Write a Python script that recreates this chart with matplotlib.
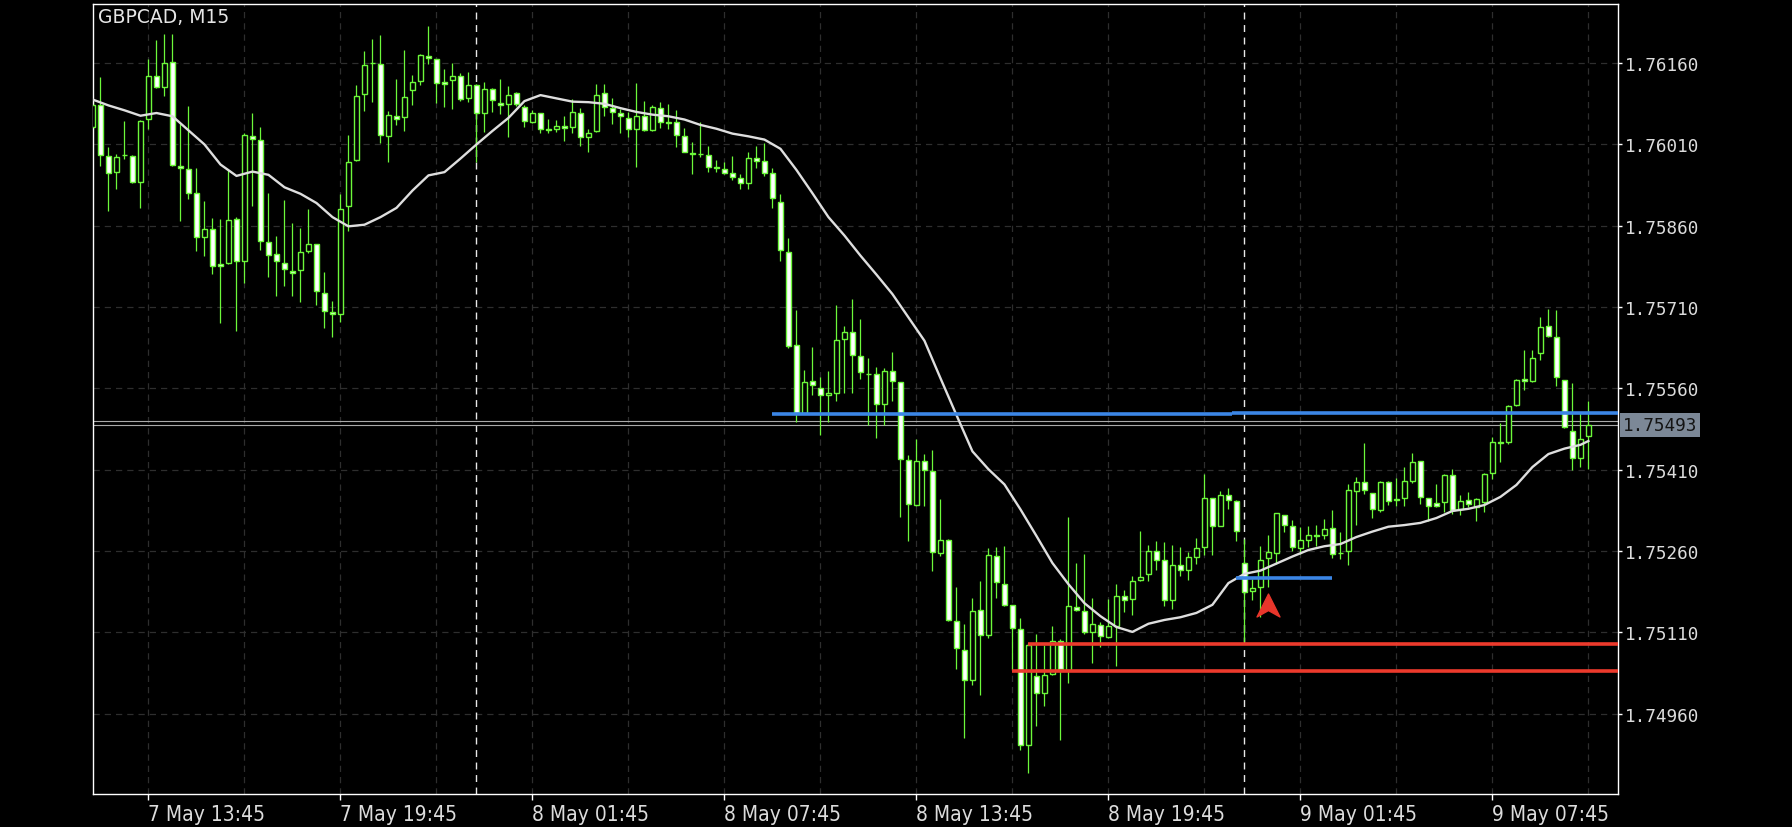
import matplotlib
matplotlib.use("Agg")
import matplotlib.pyplot as plt
from matplotlib.path import Path
from matplotlib.transforms import blended_transform_factory
import numpy as np
import pandas as pd

# chart data (GBPCAD M15)
symbol = "GBPCAD, M15"
start_time = "2024-05-07 12:00"

open_ = [1.76042, 1.76082, 1.75988, 1.75959, 1.75991, 1.75988, 1.75940, 1.76057, 1.76137, 1.76116,
         1.76162, 1.75970, 1.75964, 1.75920, 1.75839, 1.75854, 1.75789, 1.75791, 1.75873, 1.75795,
         1.76025, 1.76018, 1.75830, 1.75808, 1.75791, 1.75776, 1.75778, 1.75813, 1.75826, 1.75736,
         1.75701, 1.75697, 1.75896, 1.75981, 1.76103, 1.76160, 1.76158, 1.76025, 1.76063, 1.76060,
         1.76110, 1.76127, 1.76173, 1.76167, 1.76125, 1.76129, 1.76137, 1.76095, 1.76119, 1.76068,
         1.76113, 1.76086, 1.76084, 1.76105, 1.76079, 1.76052, 1.76068, 1.76039, 1.76038, 1.76044,
         1.76042, 1.76068, 1.76023, 1.76034, 1.76105, 1.76077, 1.76068, 1.76059, 1.76038, 1.76063,
         1.76036, 1.76077, 1.76051, 1.76051, 1.76025, 1.75994, 1.75993, 1.75990, 1.75968, 1.75964,
         1.75957, 1.75949, 1.75939, 1.75985, 1.75979, 1.75957, 1.75904, 1.75811, 1.75641, 1.75515,
         1.75573, 1.75561, 1.75548, 1.75551, 1.75651, 1.75664, 1.75620, 1.75587, 1.75586, 1.75531,
         1.75592, 1.75572, 1.75428, 1.75345, 1.75426, 1.75407, 1.75257, 1.75281, 1.75131, 1.75078,
         1.75022, 1.75151, 1.75105, 1.75251, 1.75200, 1.75161, 1.75117, 1.74903, 1.75030, 1.74998,
         1.75034, 1.75095, 1.75041, 1.75157, 1.75149, 1.75111, 1.75124, 1.75101, 1.75121, 1.75178,
         1.75171, 1.75207, 1.75217, 1.75260, 1.75243, 1.75169, 1.75235, 1.75225, 1.75250, 1.75267,
         1.75358, 1.75307, 1.75364, 1.75353, 1.75238, 1.75186, 1.75193, 1.75247, 1.75256, 1.75326,
         1.75307, 1.75265, 1.75281, 1.75289, 1.75290, 1.75302, 1.75257, 1.75260, 1.75371, 1.75387,
         1.75367, 1.75335, 1.75387, 1.75356, 1.75358, 1.75389, 1.75427, 1.75358, 1.75348, 1.75350,
         1.75401, 1.75338, 1.75355, 1.75341, 1.75350, 1.75404, 1.75460, 1.75461, 1.75529, 1.75577,
         1.75573, 1.75625, 1.75676, 1.75655, 1.75576, 1.75482, 1.75431, 1.75472]
high = [1.76094, 1.76134, 1.76006, 1.75993, 1.76054, 1.75991, 1.76056, 1.76168, 1.76203, 1.76214,
        1.76214, 1.76048, 1.76081, 1.75966, 1.75905, 1.75874, 1.75872, 1.75962, 1.75876, 1.76031,
        1.76068, 1.76042, 1.75921, 1.75841, 1.75907, 1.75865, 1.75856, 1.75891, 1.75826, 1.75774,
        1.75722, 1.75919, 1.76027, 1.76120, 1.76183, 1.76205, 1.76211, 1.76071, 1.76131, 1.76185,
        1.76138, 1.76177, 1.76228, 1.76168, 1.76150, 1.76160, 1.76142, 1.76143, 1.76122, 1.76125,
        1.76114, 1.76131, 1.76118, 1.76106, 1.76083, 1.76073, 1.76068, 1.76057, 1.76055, 1.76062,
        1.76093, 1.76078, 1.76038, 1.76122, 1.76122, 1.76096, 1.76076, 1.76070, 1.76124, 1.76090,
        1.76082, 1.76088, 1.76084, 1.76074, 1.76040, 1.76014, 1.76052, 1.76007, 1.75982, 1.75977,
        1.75988, 1.75955, 1.75997, 1.76008, 1.76012, 1.75967, 1.75919, 1.75838, 1.75704, 1.75594,
        1.75636, 1.75582, 1.75592, 1.75714, 1.75676, 1.75725, 1.75688, 1.75617, 1.75600, 1.75597,
        1.75628, 1.75572, 1.75437, 1.75467, 1.75439, 1.75447, 1.75357, 1.75283, 1.75194, 1.75126,
        1.75173, 1.75204, 1.75266, 1.75268, 1.75269, 1.75161, 1.75136, 1.75090, 1.75107, 1.75087,
        1.75121, 1.75097, 1.75322, 1.75238, 1.75255, 1.75173, 1.75130, 1.75171, 1.75200, 1.75188,
        1.75215, 1.75297, 1.75272, 1.75278, 1.75276, 1.75271, 1.75268, 1.75259, 1.75284, 1.75403,
        1.75358, 1.75370, 1.75377, 1.75355, 1.75283, 1.75209, 1.75270, 1.75290, 1.75330, 1.75326,
        1.75318, 1.75304, 1.75306, 1.75309, 1.75320, 1.75336, 1.75295, 1.75383, 1.75396, 1.75460,
        1.75367, 1.75390, 1.75389, 1.75395, 1.75415, 1.75441, 1.75427, 1.75358, 1.75384, 1.75403,
        1.75411, 1.75364, 1.75369, 1.75358, 1.75404, 1.75471, 1.75496, 1.75530, 1.75578, 1.75630,
        1.75630, 1.75692, 1.75707, 1.75704, 1.75576, 1.75570, 1.75516, 1.75537]
low = [1.76039, 1.75971, 1.75887, 1.75927, 1.75984, 1.75939, 1.75893, 1.76039, 1.76114, 1.76099,
       1.75970, 1.75868, 1.75910, 1.75814, 1.75805, 1.75771, 1.75680, 1.75790, 1.75666, 1.75755,
       1.75897, 1.75816, 1.75766, 1.75731, 1.75749, 1.75731, 1.75720, 1.75810, 1.75713, 1.75672,
       1.75655, 1.75683, 1.75850, 1.75980, 1.76071, 1.76088, 1.76013, 1.75977, 1.76046, 1.76035,
       1.76082, 1.76119, 1.76158, 1.76086, 1.76080, 1.76075, 1.76090, 1.76088, 1.75977, 1.76033,
       1.76070, 1.76067, 1.76023, 1.76081, 1.76042, 1.76049, 1.76031, 1.76031, 1.76033, 1.76017,
       1.76031, 1.76008, 1.75997, 1.76033, 1.76062, 1.76048, 1.76031, 1.76023, 1.75969, 1.76034,
       1.76034, 1.76040, 1.76039, 1.76005, 1.75996, 1.75955, 1.75987, 1.75959, 1.75959, 1.75955,
       1.75944, 1.75927, 1.75928, 1.75966, 1.75952, 1.75893, 1.75795, 1.75634, 1.75499, 1.75513,
       1.75548, 1.75475, 1.75499, 1.75536, 1.75551, 1.75551, 1.75578, 1.75492, 1.75469, 1.75492,
       1.75536, 1.75323, 1.75278, 1.75344, 1.75344, 1.75223, 1.75251, 1.75132, 1.75042, 1.74916,
       1.75013, 1.74994, 1.75100, 1.75173, 1.75158, 1.75041, 1.74893, 1.74850, 1.74937, 1.74975,
       1.75031, 1.74911, 1.75016, 1.75149, 1.75108, 1.75054, 1.75084, 1.75100, 1.75049, 1.75147,
       1.75143, 1.75205, 1.75205, 1.75226, 1.75159, 1.75153, 1.75215, 1.75207, 1.75237, 1.75252,
       1.75252, 1.75306, 1.75337, 1.75278, 1.75093, 1.75169, 1.75138, 1.75193, 1.75237, 1.75295,
       1.75261, 1.75255, 1.75267, 1.75270, 1.75283, 1.75248, 1.75246, 1.75235, 1.75309, 1.75366,
       1.75321, 1.75332, 1.75345, 1.75344, 1.75344, 1.75386, 1.75347, 1.75316, 1.75341, 1.75332,
       1.75329, 1.75326, 1.75341, 1.75315, 1.75332, 1.75393, 1.75425, 1.75458, 1.75527, 1.75558,
       1.75572, 1.75612, 1.75655, 1.75564, 1.75487, 1.75409, 1.75415, 1.75412]
close = [1.76082, 1.75991, 1.75957, 1.75987, 1.75991, 1.75940, 1.76054, 1.76136, 1.76116, 1.76160,
         1.75972, 1.75966, 1.75921, 1.75839, 1.75854, 1.75785, 1.75785, 1.75871, 1.75795, 1.76028,
         1.76020, 1.75832, 1.75807, 1.75795, 1.75781, 1.75773, 1.75811, 1.75826, 1.75739, 1.75702,
         1.75697, 1.75891, 1.75977, 1.76100, 1.76157, 1.76160, 1.76028, 1.76065, 1.76057, 1.76097,
         1.76125, 1.76175, 1.76169, 1.76123, 1.76121, 1.76137, 1.76094, 1.76120, 1.76068, 1.76113,
         1.76092, 1.76082, 1.76102, 1.76084, 1.76053, 1.76068, 1.76039, 1.76037, 1.76044, 1.76040,
         1.76070, 1.76023, 1.76031, 1.76101, 1.76079, 1.76070, 1.76062, 1.76038, 1.76062, 1.76036,
         1.76079, 1.76052, 1.76050, 1.76028, 1.75996, 1.75993, 1.75992, 1.75968, 1.75966, 1.75957,
         1.75950, 1.75939, 1.75985, 1.75979, 1.75958, 1.75911, 1.75816, 1.75639, 1.75515, 1.75572,
         1.75566, 1.75548, 1.75552, 1.75649, 1.75664, 1.75621, 1.75590, 1.75586, 1.75531, 1.75592,
         1.75574, 1.75429, 1.75346, 1.75426, 1.75409, 1.75258, 1.75281, 1.75133, 1.75082, 1.75022,
         1.75149, 1.75105, 1.75253, 1.75203, 1.75161, 1.75119, 1.74903, 1.75087, 1.74998, 1.75032,
         1.75095, 1.75042, 1.75159, 1.75151, 1.75110, 1.75126, 1.75103, 1.75121, 1.75178, 1.75169,
         1.75205, 1.75212, 1.75261, 1.75243, 1.75169, 1.75235, 1.75226, 1.75249, 1.75266, 1.75358,
         1.75307, 1.75363, 1.75355, 1.75298, 1.75184, 1.75192, 1.75243, 1.75258, 1.75330, 1.75308,
         1.75267, 1.75281, 1.75289, 1.75288, 1.75301, 1.75254, 1.75256, 1.75372, 1.75387, 1.75372,
         1.75338, 1.75387, 1.75353, 1.75354, 1.75389, 1.75424, 1.75360, 1.75344, 1.75343, 1.75401,
         1.75335, 1.75353, 1.75347, 1.75356, 1.75403, 1.75462, 1.75462, 1.75527, 1.75576, 1.75574,
         1.75617, 1.75674, 1.75657, 1.75581, 1.75489, 1.75431, 1.75467, 1.75493]

# moving average as drawn on the chart (candle index, price)
ma_index = [0, 2, 4, 6, 8, 10, 12, 14, 16, 18, 20, 22, 24, 26, 28, 30, 32, 34, 36, 38,
            40, 42, 44, 46, 48, 50, 52, 54, 56, 58, 60, 62, 64, 66, 68, 70, 72, 74, 76, 78,
            80, 82, 84, 86, 88, 90, 92, 94, 96, 98, 100, 102, 104, 106, 108, 110, 112, 114, 116, 118,
            120, 122, 124, 126, 128, 130, 132, 134, 136, 138, 140, 142, 144, 146, 148, 150, 152, 154, 156, 158,
            160, 162, 164, 166, 168, 170, 172, 174, 176, 178, 180, 182, 184, 186, 187]
ma_value = [1.76093, 1.76082, 1.76073, 1.76063, 1.76068, 1.76062, 1.76036, 1.76010, 1.75973, 1.75952,
            1.75960, 1.75954, 1.75931, 1.75919, 1.75902, 1.75876, 1.75859, 1.75862, 1.75876, 1.75893,
            1.75925, 1.75953, 1.75959, 1.75984, 1.76010, 1.76035, 1.76059, 1.76090, 1.76101, 1.76095,
            1.76089, 1.76088, 1.76085, 1.76077, 1.76070, 1.76065, 1.76062, 1.76056, 1.76046, 1.76039,
            1.76030, 1.76025, 1.76019, 1.76002, 1.75963, 1.75920, 1.75876, 1.75842, 1.75805, 1.75770,
            1.75734, 1.75691, 1.75648, 1.75579, 1.75511, 1.75444, 1.75411, 1.75383, 1.75337, 1.75288,
            1.75238, 1.75199, 1.75164, 1.75140, 1.75120, 1.75111, 1.75126, 1.75133, 1.75138, 1.75146,
            1.75161, 1.75201, 1.75218, 1.75224, 1.75237, 1.75250, 1.75262, 1.75269, 1.75273, 1.75286,
            1.75296, 1.75305, 1.75308, 1.75312, 1.75321, 1.75334, 1.75338, 1.75345, 1.75360, 1.75382,
            1.75415, 1.75439, 1.75449, 1.75456, 1.75463]

# horizontal levels (start candle, end candle, price); None = to the right edge
blue_start = [84.96, 142.4, 142.96]
blue_end = [142.4, None, 154.9]
blue_price = [1.75512, 1.75514, 1.75211]
red_start = [116.96, 114.9]
red_price = [1.75089, 1.75038]
bid_price = 1.75493
ask_price = 1.75500
arrow_index = 147
arrow_price = 1.75161

price_ticks = [1.74960, 1.75110, 1.75260, 1.75410, 1.75560, 1.75710, 1.75860, 1.76010, 1.76160]

green = "#6cf83a"
x = np.arange(len(close))
times = pd.date_range(start_time, periods=len(close), freq="15min")
o = np.array(open_)
c = np.array(close)

fig = plt.figure(figsize=(17.92, 8.28), dpi=100, facecolor="black")
ax = fig.add_axes([92.5 / 1792, 33 / 828, 1525.5 / 1792, 790.5 / 828])
ax.set_facecolor("black")

# grid: dashed every 3 hours, white dashes at day change
for i, t in enumerate(times):
    if t.minute == 45 and t.hour % 3 == 1:
        ax.axvline(i, color="#2e2e2e", lw=0.9, ls=(0, (5, 4)), zorder=0)
    if t.hour == 0 and t.minute == 0:
        ax.axvline(i, color="#e8e8e8", lw=1.0, ls=(0, (5, 4)), zorder=1)
for p in price_ticks:
    ax.axhline(p, color="#2e2e2e", lw=0.9, ls=(0, (5, 4)), zorder=0)

# bid / ask lines
ax.axhline(ask_price, color="#a8a8a8", lw=0.8, zorder=1)
ax.axhline(bid_price, color="#a8a8a8", lw=0.8, zorder=1)

# candles
ax.vlines(x, low, high, color=green, lw=0.9, zorder=2)
body_color = np.where(c < o, "white", "black")
ax.bar(x, c - o, bottom=o, width=0.62, color=body_color, edgecolor=green, linewidth=1.0, zorder=3)

# moving average
ax.plot(ma_index, ma_value, color="#dedede", lw=1.7, zorder=4)

# levels
right_end = 190.7
for s, e, p in zip(blue_start, blue_end, blue_price):
    ax.hlines(p, s, right_end if e is None else e, color="#3b86e6", lw=2.6, zorder=5)
for s, p in zip(red_start, red_price):
    ax.hlines(p, s, right_end, color="#ec3a2c", lw=2.6, zorder=5)

# buy arrow
arrow = Path([(0, 0.5), (0.5, -0.5), (0, -0.22), (-0.5, -0.5), (0, 0.5)],
             [Path.MOVETO, Path.LINETO, Path.LINETO, Path.LINETO, Path.CLOSEPOLY])
ax.plot([arrow_index], [arrow_price], marker=arrow, markersize=16.5, color="#e8362b", zorder=6)

ax.set_xlim(0.0, right_end)
ax.set_ylim(1.74812, 1.76270)

# axes, ticks
for sp in ax.spines.values():
    sp.set_color("white")
    sp.set_linewidth(1.0)

ax.yaxis.tick_right()
ax.set_yticks(price_ticks)
ax.set_yticklabels([f"{p:.5f}" for p in price_ticks], family="DejaVu Sans Mono", fontsize=12.7)
ax.tick_params(axis="y", colors="white", labelcolor="#dcdcdc", length=3, width=1, pad=2)

label_idx = [i for i, t in enumerate(times) if t.minute == 45 and t.hour % 6 == 1]
ax.set_xticks(label_idx)
ax.set_xticklabels([f"{times[i].day} {times[i]:%b %H:%M}" for i in label_idx],
                   family="DejaVu Sans", fontstretch="condensed", fontsize=15, ha="left")
ax.tick_params(axis="x", colors="white", labelcolor="#dcdcdc", length=4, width=1, pad=3)

# title and current price tag
ax.text(0.0036, 0.996, symbol, transform=ax.transAxes, ha="left", va="top",
        color="#e6e6e6", fontsize=13.5)
trans = blended_transform_factory(ax.transAxes, ax.transData)
ax.text(1.0033, bid_price, f"{bid_price:.5f}", transform=trans, ha="left", va="center",
        family="DejaVu Sans Mono", fontsize=12.7, color="#141414",
        bbox=dict(boxstyle="square,pad=0.17", fc="#7c8897", ec="none"))

plt.savefig("out.png", dpi=100, facecolor="black")
